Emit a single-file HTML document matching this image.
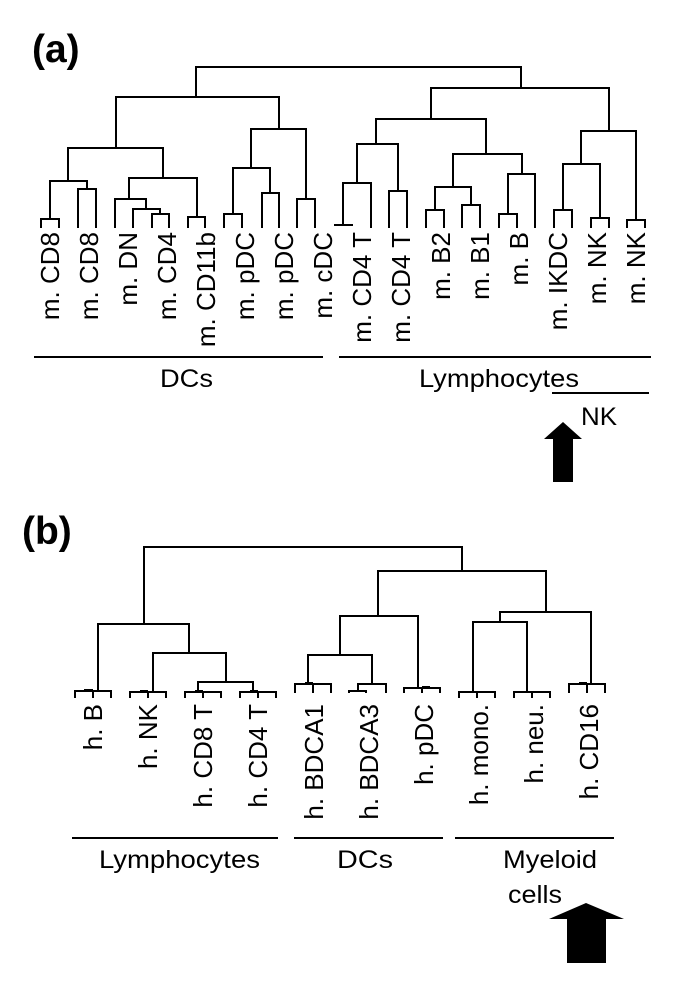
<!DOCTYPE html>
<html><head><meta charset="utf-8"><style>
html,body{margin:0;padding:0;background:#fff}
svg{display:block}
text{font-family:"Liberation Sans",Arial,sans-serif;fill:#000}
</style></head><body>
<svg width="685" height="1002" viewBox="0 0 685 1002" xmlns="http://www.w3.org/2000/svg">
<g stroke="#000" stroke-width="2" fill="none" stroke-linecap="square">
<!-- (a) mouse tree -->
<path d="M196,97V67H521V88"/>
<path d="M116,148V97H279V129"/>
<path d="M68,181V148H163V178"/>
<path d="M50,219V181H87V189"/>
<path d="M41,227V219H59V227"/>
<path d="M78,227V189H96V227"/>
<path d="M129,199V178H197V217"/>
<path d="M115,227V199H146V209"/>
<path d="M133,227V209H160V214"/>
<path d="M152,227V214H169V227"/>
<path d="M188,227V217H205V227"/>
<path d="M251,168V129H306V199"/>
<path d="M233,214V168H270V193"/>
<path d="M224,227V214H242V227"/>
<path d="M262,227V193H279V227"/>
<path d="M297,227V199H315V227"/>
<path d="M431,119V88H609V131"/>
<path d="M376,144V119H486V154"/>
<path d="M357,183V144H398V191"/>
<path d="M343,225V183H371V227"/>
<path d="M335,225H352"/>
<path d="M389,227V191H407V227"/>
<path d="M453,187V154H522V174"/>
<path d="M435,210V187H471V205"/>
<path d="M426,227V210H444V227"/>
<path d="M462,227V205H480V227"/>
<path d="M508,214V174H535V227"/>
<path d="M499,227V214H517V227"/>
<path d="M581,164V131H636V220"/>
<path d="M563,210V164H600V218"/>
<path d="M554,227V210H572V227"/>
<path d="M591,227V218H609V227"/>
<path d="M627,227V220H645V227"/>
<!-- group lines (a) -->
<path d="M35,357H322"/>
<path d="M340,357H650"/>
<path d="M553,393H648"/>
<!-- (b) human tree -->
<path d="M144,624V547H462V571"/>
<path d="M98,691V624H189V653"/>
<path d="M75,697V691H111V697M93,691V697"/>
<path d="M153,692V653H226V682"/>
<path d="M130,697V692H166V697M148,692V697"/>
<path d="M198,692V682H253V692"/>
<path d="M185,697V692H221V697M203,692V697"/>
<path d="M240,697V692H276V697M258,692V697"/>
<path d="M378,616V571H546V612"/>
<path d="M340,655V616H418V688"/>
<path d="M308,684V655H372V684"/>
<path d="M295,692V684H331V692M313,684V692"/>
<path d="M358,691V684H386V692"/>
<path d="M349,692V691H366V692"/>
<path d="M404,692V688H440V692M422,688V692"/>
<path d="M500,622V612H591V684"/>
<path d="M473,692V622H527V692"/>
<path d="M459,697V692H495V697M477,692V697"/>
<path d="M514,697V692H550V697M532,692V697"/>
<path d="M569,692V684H605V692M587,684V692"/>
<!-- group lines (b) -->
<path d="M73,838H277"/>
<path d="M295,838H442"/>
<path d="M456,838H613"/>
</g>
<g fill="#000">
<rect x="84" y="689" width="9" height="3"/>
<rect x="140" y="690" width="8" height="3"/>
<rect x="195" y="690" width="8" height="3"/>
<rect x="250" y="690" width="8" height="3"/>
<rect x="305" y="682" width="8" height="3"/>
<rect x="422" y="686" width="8" height="3"/>
<rect x="579" y="682" width="8" height="3"/>
<!-- arrows -->
<polygon points="563,422 582,439 573,439 573,482 553,482 553,439 544,439"/>
<polygon points="586,903 624,919 606,919 606,963 567,963 567,919 549,919"/>
</g>
<text x="32" y="62" font-size="39" font-weight="bold">(a)</text>
<text x="22" y="544" font-size="39" font-weight="bold">(b)</text>
<g font-size="26" text-anchor="end">
<text transform="translate(59,232) rotate(-90)">m. CD8</text>
<text transform="translate(98,232) rotate(-90)">m. CD8</text>
<text transform="translate(137,232) rotate(-90)">m. DN</text>
<text transform="translate(176,232) rotate(-90)">m. CD4</text>
<text transform="translate(215,232) rotate(-90)">m. CD11b</text>
<text transform="translate(254,232) rotate(-90)">m. pDC</text>
<text transform="translate(293,232) rotate(-90)">m. pDC</text>
<text transform="translate(332,232) rotate(-90)">m. cDC</text>
<text transform="translate(371,232) rotate(-90)">m. CD4 T</text>
<text transform="translate(410,232) rotate(-90)">m. CD4 T</text>
<text transform="translate(450,232) rotate(-90)">m. B2</text>
<text transform="translate(489,232) rotate(-90)">m. B1</text>
<text transform="translate(528,232) rotate(-90)">m. B</text>
<text transform="translate(567,232) rotate(-90)">m. IKDC</text>
<text transform="translate(606,232) rotate(-90)">m. NK</text>
<text transform="translate(645,232) rotate(-90)">m. NK</text>

<text transform="translate(102,704) rotate(-90)">h. B</text>
<text transform="translate(157,704) rotate(-90)">h. NK</text>
<text transform="translate(212,704) rotate(-90)">h. CD8 T</text>
<text transform="translate(267,704) rotate(-90)">h. CD4 T</text>
<text transform="translate(323,704) rotate(-90)">h. BDCA1</text>
<text transform="translate(378,704) rotate(-90)">h. BDCA3</text>
<text transform="translate(433,704) rotate(-90)">h. pDC</text>
<text transform="translate(488,704) rotate(-90)">h. mono.</text>
<text transform="translate(543,704) rotate(-90)">h. neu.</text>
<text transform="translate(598,704) rotate(-90)">h. CD16</text>
</g>
<g font-size="25">
<text x="160" y="387" textLength="53" lengthAdjust="spacingAndGlyphs">DCs</text>
<text x="419" y="387" textLength="160" lengthAdjust="spacingAndGlyphs">Lymphocytes</text>
<text x="581" y="425" textLength="36" lengthAdjust="spacingAndGlyphs">NK</text>
<text x="99" y="868" textLength="161" lengthAdjust="spacingAndGlyphs">Lymphocytes</text>
<text x="337" y="868" textLength="56" lengthAdjust="spacingAndGlyphs">DCs</text>
<text x="503" y="868" textLength="94" lengthAdjust="spacingAndGlyphs">Myeloid</text>
<text x="508" y="903" textLength="54" lengthAdjust="spacingAndGlyphs">cells</text>
</g>
</svg>
</body></html>
